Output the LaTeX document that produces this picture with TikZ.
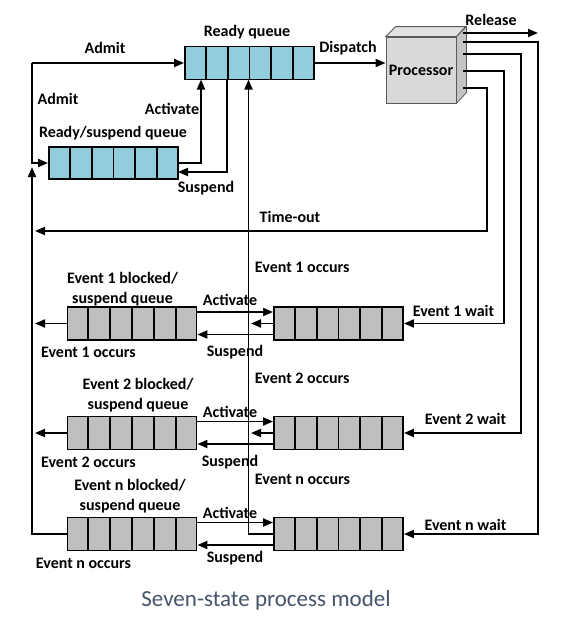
\documentclass[tikz,border=0pt]{standalone}
\usepackage{fontspec}
\setmainfont{Carlito}
\usetikzlibrary{positioning,calc,arrows.meta}
\definecolor{readyblue}{RGB}{146,205,220}
\definecolor{blockgray}{RGB}{191,191,191}
\definecolor{procfront}{RGB}{217,217,217}
\definecolor{proctop}{RGB}{226,226,226}
\definecolor{procside}{RGB}{196,196,196}
\definecolor{procedge}{RGB}{90,90,90}
\definecolor{captiongray}{RGB}{68,84,106}
\begin{document}
\begin{tikzpicture}[x=1pt,y=-1pt,
 >={Triangle[length=10pt,width=8pt]},
 line width=1.9pt,
 lbl/.style={font=\bfseries\fontsize{16}{20}\selectfont, inner sep=0pt},
 queue/.style={draw, line width=1.9pt, minimum width=129pt, minimum height=33pt, inner sep=0pt},
 rqueue/.style={queue, fill=readyblue},
 bqueue/.style={queue, fill=blockgray},
 procline/.style={draw=procedge, line width=0.8pt},
 procbox/.style={procline, fill=procfront, minimum width=70pt, minimum height=66pt, inner sep=0pt, font=\bfseries\fontsize{16}{20}\selectfont}]
 \useasboundingbox (0,0) rectangle (565,621);

 %Queues
 \node[rqueue] (ready) at (249.5,63) {};
 \node[rqueue, minimum height=32pt] (rsusp) at (113.5,163) {};
 \foreach \k/\y in {1/323.5,2/433,n/534}{
  \node[bqueue] (bs\k) at (132,\y) {};
  \node[bqueue] (b\k) at (338.5,\y) {};
 }

 %Cells
 \foreach \q in {ready,rsusp,bs1,b1,bs2,b2,bsn,bn}
  \foreach \i in {1,...,5}
   \draw ($(\q.south west)!\i/6!(\q.south east)$) -- ($(\q.north west)!\i/6!(\q.north east)$);

 %Processor
 \node[procbox] (proc) at (421,70) {Processor};
 \draw[procline, fill=proctop] (proc.north west) -- ++(10,-10) -- ++(70,0) -- (proc.north east) -- cycle;
 \draw[procline, fill=procside] (proc.north east) -- ++(10,-10) -- ++(0,66) -- (proc.south east) -- cycle;

 %Coordinates
 \coordinate (admitCorner) at (32,63);
 \coordinate (leftBus) at (32,167);
 \coordinate (leftTip) at (35,0);
 \coordinate (actTop) at (201,79.5);
 \coordinate (suspTop) at (227,79.5);
 \coordinate (suspEnd) at (178,172);
 \coordinate (midBus) at (248.5,79.5);
 \coordinate (midTip) at (251,0);
 \coordinate (relStart) at (463,33);
 \coordinate (relEnd) at (538,33);
 \coordinate (waitnStart) at (463,42);
 \coordinate (waitn) at (538,42);
 \coordinate (wait2Start) at (463,54);
 \coordinate (wait2) at (521,54);
 \coordinate (wait1Start) at (463,71);
 \coordinate (wait1) at (504,71);
 \coordinate (toStart) at (463,88);
 \coordinate (toCorner) at (487,88);
 \coordinate (toEnd) at (35,231);

 %Connectors
 \draw[->] (admitCorner) -- (ready.west);
 \draw[->] (admitCorner) |- (rsusp.west);
 \draw[->] (bsn.west) -| (leftBus);
 \draw[->] (bs1.west) -- (bs1.west -| leftTip);
 \draw[->] (bs2.west) -- (bs2.west -| leftTip);
 \draw[->] (rsusp.east) -| (actTop);
 \draw[->] (suspTop) |- (suspEnd);
 \draw[->] (ready.east) -- (ready.east -| proc.west);
 \draw[->] (bn.west) -| (midBus);
 \draw[->] (b1.west) -- (b1.west -| midTip);
 \draw[->] (b2.west) -- (b2.west -| midTip);
 \foreach \k in {1,2,n}{
  \draw[->] ([yshift=11.5pt]bs\k.east) -- ([yshift=11.5pt]b\k.west);
  \draw[->] ([yshift=-11pt]b\k.west) -- ([yshift=-11pt]bs\k.east);
 }
 \draw[->] (relStart) -- (relEnd);
 \draw[->] (waitnStart) -- (waitn) |- (bn.east);
 \draw[->] (wait2Start) -- (wait2) |- (b2.east);
 \draw[->] (wait1Start) -- (wait1) |- (b1.east);
 \draw[->] (toStart) -- (toCorner) |- (toEnd);

 %Names
 \node[lbl] (readyname) at (247,32) {Ready queue};
 \node[lbl] (admit1) at (105,48) {Admit};
 \node[lbl] (admit2) at (58,99) {Admit};
 \node[lbl] (activate0) at (172,109) {Activate};
 \node[lbl] (rsuspname) at (113,133) {Ready/suspend queue};
 \node[lbl] (suspend0) at (206,188) {Suspend};
 \node[lbl] (dispatch) at (348,48) {Dispatch};
 \node[lbl] (release) at (491,20) {Release};
 \node[lbl] (timeout) at (290,217) {Time-out};

 \node[lbl, align=center] (bs1name) at (122.5,289) {Event 1 blocked/\\suspend queue};
 \node[lbl, align=center] (bs2name) at (138,395.5) {Event 2 blocked/\\suspend queue};
 \node[lbl, align=center] (bsnname) at (130,496.5) {Event n blocked/\\suspend queue};

 \node[lbl] (act1) at (230,300) {Activate};
 \node[lbl] (act2) at (230,412) {Activate};
 \node[lbl] (actn) at (230,513) {Activate};
 \node[lbl] (susp1) at (235,352) {Suspend};
 \node[lbl] (susp2) at (230,462) {Suspend};
 \node[lbl] (suspn) at (235,558) {Suspend};

 \node[lbl] (occ1left) at (88.5,352) {Event 1 occurs};
 \node[lbl] (occ2left) at (88.5,462) {Event 2 occurs};
 \node[lbl] (occnleft) at (83.5,563) {Event n occurs};
 \node[lbl, anchor=west] (occ1mid) at (254,267) {Event 1 occurs};
 \node[lbl, anchor=west] (occ2mid) at (254,378) {Event 2 occurs};
 \node[lbl, anchor=west] (occnmid) at (254,479) {Event n occurs};

 \node[lbl] (wait1name) at (453.5,311) {Event 1 wait};
 \node[lbl] (wait2name) at (465.5,419) {Event 2 wait};
 \node[lbl] (waitnname) at (465.5,525) {Event n wait};

 \node[font=\fontsize{23}{28}\selectfont, text=captiongray, inner sep=0pt] (caption) at (266,600) {Seven-state process model};
\end{tikzpicture}
\end{document}
